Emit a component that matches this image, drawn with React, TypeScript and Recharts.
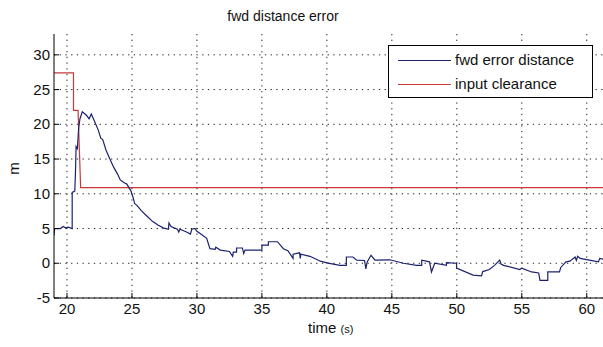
import React from "react";
import { LineChart, Line, XAxis, YAxis, CartesianGrid, Legend } from "recharts";

const xTicks = [20, 25, 30, 35, 40, 45, 50, 55, 60];
const yTicks = [-5, 0, 5, 10, 15, 20, 25, 30];

const errTime = [
  19.0, 19.05, 19.5, 19.7, 19.9, 20.1, 20.4, 20.4, 20.6, 20.65, 20.7, 20.8, 20.9, 21.0, 21.18, 21.5, 21.7, 21.87,
  22.1, 22.4, 22.6, 22.75, 23.0, 23.3, 23.6, 23.9, 24.1, 24.4, 24.6, 24.9, 25.1, 25.2, 25.4, 25.7, 26.2, 26.6,
  27.0, 27.4, 27.8, 27.85, 28.0, 28.5, 28.6, 28.7, 29.2, 29.5, 29.6, 29.85, 30.0, 30.3, 30.75, 31.0, 31.4, 31.45,
  31.8, 32.5, 32.75, 32.8, 33.05, 33.05, 33.5, 33.6, 33.7, 35.0, 35.0, 35.5, 35.5, 36.2, 36.65, 37.0, 37.15, 37.4,
  37.4, 37.9, 37.95, 38.0, 38.7, 39.5, 40.0, 41.0, 41.5, 41.5, 42.0, 42.3, 42.9, 43.0, 43.1, 43.4, 43.7, 44.85,
  45.9, 46.9, 47.3, 47.3, 47.9, 48.05, 48.3, 49.2, 49.2, 49.98, 49.98, 51.25, 51.9, 52.0, 52.5, 52.9, 53.3, 53.4,
  53.6, 54.85, 55.0, 55.75, 56.3, 56.4, 57.0, 57.0, 57.9, 58.0, 58.4, 58.7, 59.1, 59.2, 59.3, 59.5, 60.2, 60.9,
  61.0, 61.25,
];
const errValue = [
  4.0, 5.0, 5.0, 5.3, 5.1, 5.2, 5.0, 10.2, 10.4, 13, 16.8, 16.5, 19.5, 20.8, 21.8, 21.3, 20.8, 21.5,
  20.5, 19.2, 18.0, 17.8, 16.3, 15.0, 13.8, 12.8, 12.0, 11.6, 11.4, 10.5, 9.4, 8.6, 8.3, 7.6, 6.7, 6.0,
  5.5, 5.1, 4.9, 5.8, 5.3, 4.9, 4.5, 4.9, 4.5, 4.2, 4.9, 5.0, 4.6, 4.2, 3.6, 2.1, 2.0, 2.3,
  1.9, 1.7, 1.0, 1.6, 1.6, 2.2, 2.2, 1.4, 1.9, 1.9, 2.6, 2.6, 3.1, 3.1, 2.1, 1.8, 1.4, 0.7,
  1.3, 1.5, 0.7, 1.3, 1.0, 0.3, 0.05, -0.3, -0.3, 0.9, 0.9, 0.45, 0.4, -0.8, 0.2, 1.15, 0.45, 0.5,
  0.0, -0.3, -0.3, 0.45, 0.2, -1.25, 0.0, -0.3, 0.1, 0.0, -0.7, -1.7, -1.8, -1.2, -0.9, -0.3, 0.45, -0.1,
  -0.3, -0.9, -0.7, -1.25, -1.4, -2.45, -2.45, -1.25, -1.25, -0.6, 0.2, 0.3, 0.9, 0.4, 1.0, 0.7, 0.45, 0.2,
  0.7, 0.6,
];

const clearTime = [19.0, 20.5, 20.5, 20.85, 21.05, 61.25];
const clearValue = [27.4, 27.4, 22.0, 22.0, 10.9, 10.9];

const errData = errTime.map((t, i) => ({ t, v: errValue[i] }));
const clearData = clearTime.map((t, i) => ({ t, v: clearValue[i] }));

const BLUE = "#1c2270";
const RED = "#c8383c";
const FONT = "'Liberation Sans', Arial, sans-serif";

const YTick = (props: any) => {
  const { x, y, payload } = props;
  return (
    <g>
      <line x1={x} x2={x + 5} y1={y} y2={y} stroke="#000" />
      <text x={x - 4} y={y} dy={5} textAnchor="end" fontSize={15} fontFamily={FONT} fill="#111">
        {payload.value}
      </text>
    </g>
  );
};

const XTick = (props: any) => {
  const { x, y, payload } = props;
  return (
    <g>
      <line x1={x} x2={x} y1={y} y2={y - 5} stroke="#000" />
      <text x={x} y={y} dy={16} textAnchor="middle" fontSize={15} fontFamily={FONT} fill="#111">
        {payload.value}
      </text>
    </g>
  );
};

const LegendBox = () => (
  <div
    style={{
      position: "absolute",
      left: 388,
      top: 45,
      width: 203,
      height: 51,
      border: "1px solid #000",
      background: "#fff",
      fontFamily: FONT,
      fontSize: 15,
      color: "#111",
    }}
  >
    <div style={{ position: "absolute", left: 9, top: 14, width: 53, height: 0, borderTop: `1px solid ${BLUE}` }} />
    <div style={{ position: "absolute", left: 66, top: 5, whiteSpace: "nowrap" }}>fwd error distance</div>
    <div style={{ position: "absolute", left: 9, top: 38, width: 53, height: 0, borderTop: `1px solid ${RED}` }} />
    <div style={{ position: "absolute", left: 66, top: 29, whiteSpace: "nowrap" }}>input clearance</div>
  </div>
);

export default function App() {
  return (
    <div style={{ position: "absolute", left: 0, top: 0, width: 603, height: 347, background: "#fff" }}>
      <LineChart width={603} height={347} margin={{ top: 34, right: 0, bottom: 0, left: 0 }}>
        <CartesianGrid stroke="#222" strokeDasharray="1.3 4.4" horizontalValues={yTicks} verticalValues={xTicks} />
        <XAxis
          type="number"
          dataKey="t"
          domain={[19, 61.25]}
          ticks={xTicks}
          allowDataOverflow
          height={49}
          stroke="#000"
          tickLine={false}
          tickSize={0}
          tickMargin={0}
          tick={<XTick />}
        />
        <YAxis
          type="number"
          dataKey="v"
          domain={[-5, 33]}
          ticks={yTicks}
          allowDataOverflow
          width={54}
          stroke="#000"
          tickLine={false}
          tickSize={0}
          tickMargin={0}
          tick={<YTick />}
        />
        <Line
          data={clearData}
          dataKey="v"
          type="linear"
          stroke={RED}
          strokeWidth={1.2}
          dot={false}
          isAnimationActive={false}
          name="input clearance"
        />
        <Line
          data={errData}
          dataKey="v"
          type="linear"
          stroke={BLUE}
          strokeWidth={1.2}
          dot={false}
          isAnimationActive={false}
          name="fwd error distance"
        />
        <Legend content={() => null} />
      </LineChart>
      <LegendBox />
      <div style={{ position: "absolute", left: 0, top: 8, width: 566, textAlign: "center", fontFamily: FONT, fontSize: 14, color: "#111" }}>
        fwd distance error
      </div>
      <div style={{ position: "absolute", left: 308, top: 319, whiteSpace: "nowrap", fontFamily: FONT, fontSize: 15, color: "#111" }}>
        time <span style={{ fontSize: 11 }}>(s)</span>
      </div>
      <div
        style={{
          position: "absolute",
          left: 3,
          top: 160,
          fontFamily: FONT,
          fontSize: 15,
          color: "#111",
          transform: "rotate(-90deg)",
          transformOrigin: "center",
          width: 20,
          textAlign: "center",
        }}
      >
        m
      </div>
    </div>
  );
}
